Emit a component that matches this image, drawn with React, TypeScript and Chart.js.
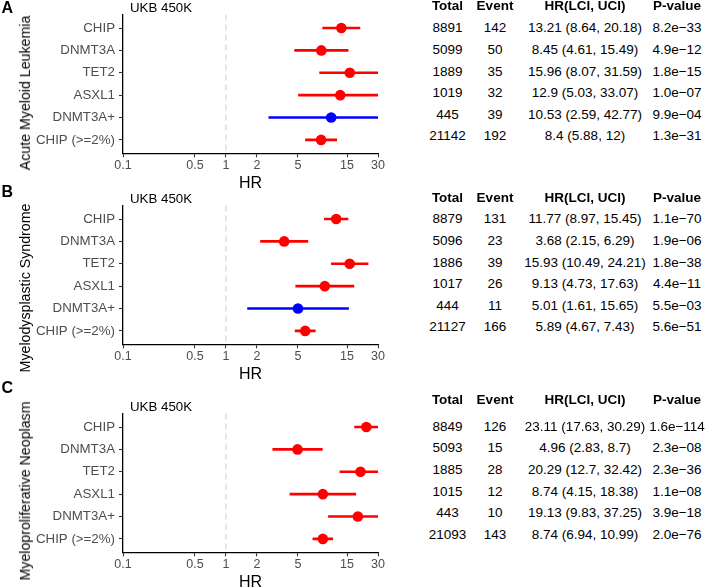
import React, { useEffect, useRef } from "react";
import { Chart, registerables } from "chart.js";

Chart.register(...registerables);

const FONT = '"Liberation Sans", Arial, Helvetica, sans-serif';
Chart.defaults.font.family = FONT;

// ---------- data ----------
const genes = ["CHIP", "DNMT3A", "TET2", "ASXL1", "DNMT3A+", "CHIP (>=2%)"];
const xTicks = [0.1, 0.5, 1, 2, 5, 15, 30];
const tableHeaders = ["Total", "Event", "HR(LCI, UCI)", "P-value"];

const amlHR = [13.21, 8.45, 15.96, 12.9, 10.53, 8.4];
const amlLCI = [8.64, 4.61, 8.07, 5.03, 2.59, 5.88];
const amlUCI = [20.18, 15.49, 31.59, 33.07, 42.77, 12];
const amlTotal = [8891, 5099, 1889, 1019, 445, 21142];
const amlEvent = [142, 50, 35, 32, 39, 192];
const amlP = ["8.2e\u221233", "4.9e\u221212", "1.8e\u221215", "1.0e\u221207", "9.9e\u221204", "1.3e\u221231"];
const amlColors = ["#FF0000", "#FF0000", "#FF0000", "#FF0000", "#0000FF", "#FF0000"];

const mdsHR = [11.77, 3.68, 15.93, 9.13, 5.01, 5.89];
const mdsLCI = [8.97, 2.15, 10.49, 4.73, 1.61, 4.67];
const mdsUCI = [15.45, 6.29, 24.21, 17.63, 15.65, 7.43];
const mdsTotal = [8879, 5096, 1886, 1017, 444, 21127];
const mdsEvent = [131, 23, 39, 26, 11, 166];
const mdsP = ["1.1e\u221270", "1.9e\u221206", "1.8e\u221238", "4.4e\u221211", "5.5e\u221203", "5.6e\u221251"];
const mdsColors = ["#FF0000", "#FF0000", "#FF0000", "#FF0000", "#0000FF", "#FF0000"];

const mpnHR = [23.11, 4.96, 20.29, 8.74, 19.13, 8.74];
const mpnLCI = [17.63, 2.83, 12.7, 4.15, 9.83, 6.94];
const mpnUCI = [30.29, 8.7, 32.42, 18.38, 37.25, 10.99];
const mpnTotal = [8849, 5093, 1885, 1015, 443, 21093];
const mpnEvent = [126, 15, 28, 12, 10, 143];
const mpnP = ["1.6e\u2212114", "2.3e\u221208", "2.3e\u221236", "1.1e\u221208", "3.9e\u221218", "2.0e\u221276"];
const mpnColors = ["#FF0000", "#FF0000", "#FF0000", "#FF0000", "#FF0000", "#FF0000"];

const panels = [
  { letter: "A", title: "Acute Myeloid Leukemia", hr: amlHR, lci: amlLCI, uci: amlUCI, total: amlTotal, event: amlEvent, p: amlP, colors: amlColors },
  { letter: "B", title: "Myelodysplastic Syndrome", hr: mdsHR, lci: mdsLCI, uci: mdsUCI, total: mdsTotal, event: mdsEvent, p: mdsP, colors: mdsColors },
  { letter: "C", title: "Myeloproliferative Neoplasm", hr: mpnHR, lci: mpnLCI, uci: mpnUCI, total: mpnTotal, event: mpnEvent, p: mpnP, colors: mpnColors },
];

// ---------- layout ----------
const CANVAS_W = 400;
const CANVAS_H = 195;
const AREA_LEFT = 123;
const AREA_RIGHT = 378;
const AREA_TOP = 14.6;
const AREA_BOTTOM = 153.3;
const panelTops = [0, 191, 399];
const letterY = [7.5, 192, 388];
const yTitleY = [92.5, 287.5, 490.5];
const headerY = [6, 198.3, 400];
const firstRowY = [28.3, 219.3, 426.7];
const rowStep = 21.6;
const colX = [447.5, 495, 585, 677];

const refLine = {
  id: "refLine",
  beforeDatasetsDraw(chart: any) {
    const { ctx, chartArea, scales } = chart;
    const x = scales.x.getPixelForValue(1);
    ctx.save();
    ctx.strokeStyle = "#D0D0D0";
    ctx.lineWidth = 1;
    ctx.setLineDash([6, 4]);
    ctx.beginPath();
    ctx.moveTo(x, chartArea.top);
    ctx.lineTo(x, chartArea.bottom);
    ctx.stroke();
    ctx.restore();
  },
};

function Forest({ top, hr, lci, uci, colors }: { top: number; hr: number[]; lci: number[]; uci: number[]; colors: string[] }) {
  const ref = useRef<HTMLCanvasElement>(null);
  useEffect(() => {
    const axisGrid = { drawOnChartArea: false, drawTicks: true, tickLength: 4, tickColor: "#333333", tickWidth: 1.1 };
    const axisBorder = { display: true, color: "#000000", width: 1.3 };
    const chart = new Chart(ref.current!, {
      type: "scatter",
      data: {
        datasets: [
          {
            data: hr.map((v, i) => ({ x: v, y: i })),
            pointRadius: 5.3,
            pointBackgroundColor: colors,
            pointBorderWidth: 0,
            showLine: false,
            order: 0,
          } as any,
          ...hr.map((_, i) => ({
            data: [
              { x: lci[i], y: i },
              { x: uci[i], y: i },
            ],
            showLine: true,
            borderColor: colors[i],
            borderWidth: 2.6,
            pointRadius: 0,
            order: 1,
            clip: 0,
          })),
        ],
      },
      options: {
        animation: false,
        responsive: false,
        events: [],
        layout: { padding: { left: 0, right: CANVAS_W - AREA_RIGHT, top: AREA_TOP, bottom: 0 } },
        plugins: { legend: { display: false }, tooltip: { enabled: false }, title: { display: false } },
        scales: {
          x: {
            type: "logarithmic",
            position: "bottom",
            min: 0.1,
            max: 30,
            afterBuildTicks: (s: any) => {
              s.ticks = xTicks.map((v) => ({ value: v }));
            },
            afterFit: (s: any) => {
              s.height = CANVAS_H - AREA_BOTTOM;
            },
            ticks: {
              callback: (v: any) => String(v),
              font: { size: 12.5 },
              color: "#4D4D4D",
              padding: 1,
              maxRotation: 0,
              autoSkip: false,
            },
            grid: axisGrid,
            border: axisBorder,
            title: { display: true, text: "HR", font: { size: 16 }, color: "#000000", padding: { top: 0, bottom: 2 } },
          },
          y: {
            type: "linear",
            reverse: true,
            min: -0.6,
            max: 5.6,
            afterBuildTicks: (s: any) => {
              s.ticks = genes.map((_, i) => ({ value: i }));
            },
            afterFit: (s: any) => {
              s.width = AREA_LEFT;
            },
            ticks: {
              callback: (v: any) => genes[v] ?? "",
              font: { size: 13.3 },
              color: "#4D4D4D",
              padding: 4,
              autoSkip: false,
            },
            grid: axisGrid,
            border: axisBorder,
          },
        },
      } as any,
      plugins: [refLine],
    });
    return () => chart.destroy();
  }, []);
  return (
    <canvas
      ref={ref}
      width={CANVAS_W}
      height={CANVAS_H}
      style={{ position: "absolute", left: 0, top, width: CANVAS_W, height: CANVAS_H }}
    />
  );
}

function T({ x, y, s, children, align = "center", bold = false, color = "#000" }: any) {
  const transform =
    align === "center" ? "translate(-50%, -50%)" : align === "left" ? "translate(0, -50%)" : "translate(-100%, -50%)";
  return (
    <div
      style={{
        position: "absolute",
        left: x,
        top: y,
        fontSize: s,
        lineHeight: `${s}px`,
        fontWeight: bold ? 700 : 400,
        color,
        whiteSpace: "nowrap",
        transform,
      }}
    >
      {children}
    </div>
  );
}

export default function App() {
  return (
    <div
      style={{
        position: "absolute",
        left: 0,
        top: 0,
        width: 706,
        height: 588,
        overflow: "hidden",
        background: "#ffffff",
        fontFamily: FONT,
      }}
    >
      {panels.map((p, k) => (
        <React.Fragment key={p.letter}>
          <Forest top={panelTops[k]} hr={p.hr} lci={p.lci} uci={p.uci} colors={p.colors} />
          <T x={1.5} y={letterY[k]} s={16} bold align="left">
            {p.letter}
          </T>
          <T x={130} y={panelTops[k] + 8} s={13.3} align="left">
            UKB 450K
          </T>
          <div
            style={{
              position: "absolute",
              left: 25,
              top: yTitleY[k],
              fontSize: 14.2,
              lineHeight: "14.2px",
              color: "#000",
              whiteSpace: "nowrap",
              transform: "translate(-50%, -50%) rotate(-90deg)",
            }}
          >
            {p.title}
          </div>
          {tableHeaders.map((h, c) => (
            <T key={h} x={colX[c]} y={headerY[k]} s={13.5} bold>
              {h}
            </T>
          ))}
          {p.hr.map((v, i) => {
            const y = firstRowY[k] + i * rowStep;
            return (
              <React.Fragment key={i}>
                <T x={colX[0]} y={y} s={13.5}>
                  {String(p.total[i])}
                </T>
                <T x={colX[1]} y={y} s={13.5}>
                  {String(p.event[i])}
                </T>
                <T x={colX[2]} y={y} s={13.5}>
                  {`${v} (${p.lci[i]}, ${p.uci[i]})`}
                </T>
                <T x={colX[3]} y={y} s={13.5}>
                  {p.p[i]}
                </T>
              </React.Fragment>
            );
          })}
        </React.Fragment>
      ))}
    </div>
  );
}
